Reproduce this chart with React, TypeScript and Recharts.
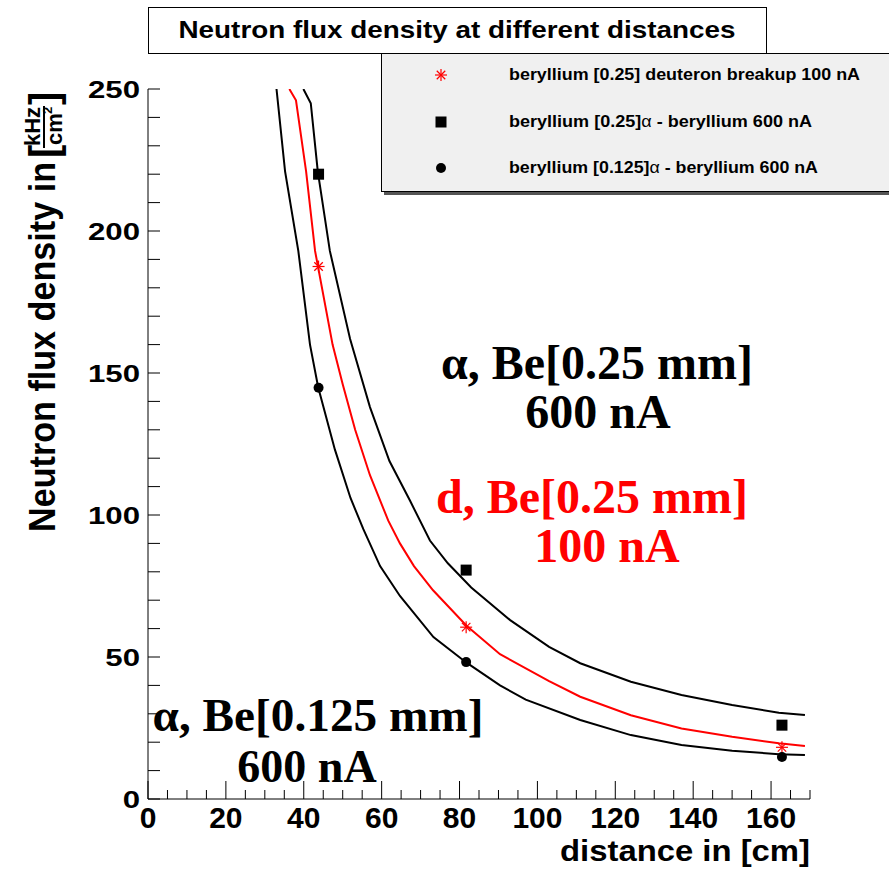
import React from "react";
import { ComposedChart, Line, Scatter, XAxis, YAxis } from "recharts";

// axis ticks
const xTicks = [0, 5, 10, 15, 20, 25, 30, 35, 40, 45, 50, 55, 60, 65, 70, 75, 80, 85, 90, 95, 100, 105, 110, 115, 120, 125, 130, 135, 140, 145, 150, 155, 160, 165, 170];
const xLabels = [0, 20, 40, 60, 80, 100, 120, 140, 160];
const yTicks = [0, 10, 20, 30, 40, 50, 60, 70, 80, 90, 100, 110, 120, 130, 140, 150, 160, 170, 180, 190, 200, 210, 220, 230, 240, 250];
const yLabels = [0, 50, 100, 150, 200, 250];

// measured points (distance in cm, flux in kHz/cm2)
const measDist = [43.8, 81.7, 162.8];
const deuteronFlux = [187.5, 60.5, 18.2];
const alpha025Flux = [220, 80.6, 26.0];
const alpha0125Flux = [144.8, 48.2, 14.8];

// fitted curves
const alpha025X = [39.9, 41.8, 43.6, 46.7, 51.9, 57, 62, 67.3, 72.4, 77, 83, 93, 103, 111, 124, 137, 150, 162, 168.7];
const alpha025Y = [250, 245, 221, 193, 162, 138, 119, 105, 91, 83, 74.5, 63, 53.6, 47.8, 41.3, 36.6, 33.1, 30.4, 29.6];

const deuteronX = [36.3, 38.0, 40.6, 42.9, 47.4, 50, 53.2, 57, 61.7, 64.7, 68.3, 73.2, 81.8, 90.4, 103, 111, 124, 137, 150, 162, 168.7];
const deuteronY = [250, 246, 221, 193, 160, 146, 130, 114, 98, 90, 82, 73.5, 61, 51, 41.5, 36, 29.5, 24.8, 21.9, 19.6, 18.7];

const alpha0125X = [33.0, 35.2, 38.6, 41.6, 43.7, 48, 52, 55.3, 59.6, 64.7, 73.3, 81.8, 90.4, 97, 111, 124, 137, 150, 162, 168.7];
const alpha0125Y = [250, 221, 193, 160, 145, 123, 106, 95, 82, 71.5, 57, 48, 40, 35, 27.8, 22.5, 19, 17, 15.8, 15.5];

const legendLabels = [
  "beryllium [0.25] deuteron breakup 100 nA",
  "beryllium [0.25]",
  "beryllium [0.125]",
];

const zip = (xs: number[], ys: number[]) => xs.map((x, i) => ({ x, y: ys[i] }));

const sans = "'Liberation Sans', Arial, Helvetica, sans-serif";
const serif = "'Liberation Serif', 'Times New Roman', serif";

const Star = ({ cx, cy }: any) => {
  const r = 6;
  const d = r * 0.707;
  return (
    <g stroke="#ff0000" strokeWidth={1.2}>
      <line x1={cx - r} y1={cy} x2={cx + r} y2={cy} />
      <line x1={cx} y1={cy - r} x2={cx} y2={cy + r} />
      <line x1={cx - d} y1={cy - d} x2={cx + d} y2={cy + d} />
      <line x1={cx - d} y1={cy + d} x2={cx + d} y2={cy - d} />
    </g>
  );
};
const Square = ({ cx, cy }: any) => <rect x={cx - 5.5} y={cy - 5.5} width={11} height={11} fill="#000" />;
const Dot = ({ cx, cy }: any) => <circle cx={cx} cy={cy} r={5} fill="#000" />;

const XTick = ({ x, y, payload }: any) => {
  const v = payload.value;
  const major = v % 20 === 0;
  return (
    <g>
      <line x1={x} y1={y} x2={x} y2={y - (major ? 18 : 9)} stroke="#000" strokeWidth={1} />
      {xLabels.includes(v) && (
        <text x={x} y={y + 29} textAnchor="middle" fontFamily={sans} fontWeight="bold" fontSize={30} fill="#000">
          {v}
        </text>
      )}
    </g>
  );
};

const YTick = ({ x, y, payload }: any) => {
  const v = payload.value;
  return (
    <g>
      <line x1={x} y1={y} x2={x + 12} y2={y} stroke="#000" strokeWidth={1} />
      {yLabels.includes(v) && (
        <text
          transform={`translate(${x - 8},${y + 8.5}) scale(1.3,1)`}
          textAnchor="end"
          fontFamily={sans}
          fontWeight="bold"
          fontSize={24}
          fill="#000"
        >
          {v}
        </text>
      )}
    </g>
  );
};

export default function App() {
  return (
    <div style={{ position: "absolute", left: 0, top: 0, width: 889, height: 869, background: "#fff" }}>
      <ComposedChart width={889} height={869} margin={{ top: 89, right: 79, bottom: 40, left: 88 }}>
        <XAxis
          type="number"
          dataKey="x"
          domain={[0, 170]}
          ticks={xTicks}
          interval={0}
          height={30}
          tickSize={0}
          tickMargin={0}
          tick={(p: any) => <XTick {...p} />}
          stroke="#000"
          allowDataOverflow
        />
        <XAxis xAxisId="top" orientation="top" type="number" domain={[0, 170]} height={0} tick={false} tickLine={false} stroke="#000" />
        <YAxis
          type="number"
          dataKey="y"
          domain={[0, 250]}
          ticks={yTicks}
          interval={0}
          width={60}
          tickSize={0}
          tickMargin={0}
          tick={(p: any) => <YTick {...p} />}
          stroke="#000"
          allowDataOverflow
        />
        <YAxis yAxisId="right" orientation="right" type="number" domain={[0, 250]} width={0} tick={false} tickLine={false} stroke="#000" />

        <Line data={zip(alpha0125X, alpha0125Y)} dataKey="y" type="linear" stroke="#000" strokeWidth={2} dot={false} isAnimationActive={false} />
        <Line data={zip(deuteronX, deuteronY)} dataKey="y" type="linear" stroke="#ff0000" strokeWidth={2} dot={false} isAnimationActive={false} />
        <Line data={zip(alpha025X, alpha025Y)} dataKey="y" type="linear" stroke="#000" strokeWidth={2} dot={false} isAnimationActive={false} />

        <Scatter data={zip(measDist, deuteronFlux)} dataKey="y" shape={(p: any) => <Star {...p} />} isAnimationActive={false} />
        <Scatter data={zip(measDist, alpha025Flux)} dataKey="y" shape={(p: any) => <Square {...p} />} isAnimationActive={false} />
        <Scatter data={zip(measDist, alpha0125Flux)} dataKey="y" shape={(p: any) => <Dot {...p} />} isAnimationActive={false} />
      </ComposedChart>

      <svg width={889} height={869} style={{ position: "absolute", left: 0, top: 0, pointerEvents: "none" }}>
        {/* title */}
        <rect x={148.5} y={7.5} width={618} height={46} fill="#fff" stroke="#000" strokeWidth={1} />
        <text x={457} y={38} textAnchor="middle" fontFamily={sans} fontWeight="bold" fontSize={24} textLength={557} lengthAdjust="spacingAndGlyphs" fill="#000">
          Neutron flux density at different distances
        </text>

        {/* legend */}
        <rect x={384} y={56} width={510} height={139} fill="#555" />
        <rect x={381.5} y={53.5} width={510} height={138} fill="#f0f0f0" stroke="#000" strokeWidth={1} />
        <Star cx={441} cy={75} />
        <Square cx={441} cy={122} />
        <Dot cx={441} cy={168} />
        <text x={509} y={80} fontFamily={sans} fontWeight="bold" fontSize={17} textLength={351} lengthAdjust="spacingAndGlyphs" fill="#000">
          {legendLabels[0]}
        </text>
        <text x={509} y={127} fontFamily={sans} fontWeight="bold" fontSize={17} textLength={303} lengthAdjust="spacingAndGlyphs" fill="#000">
          {legendLabels[1]}
          <tspan fontWeight="normal">α</tspan> - beryllium 600 nA
        </text>
        <text x={509} y={173} fontFamily={sans} fontWeight="bold" fontSize={17} textLength={309} lengthAdjust="spacingAndGlyphs" fill="#000">
          {legendLabels[2]}
          <tspan fontWeight="normal">α</tspan> - beryllium 600 nA
        </text>

        {/* axis titles */}
        <text x={810} y={861} textAnchor="end" fontFamily={sans} fontWeight="bold" fontSize={30} textLength={250} lengthAdjust="spacingAndGlyphs" fill="#000">
          distance in [cm]
        </text>
        <g transform="translate(55,532) rotate(-90)" fontFamily={sans} fontWeight="bold" fill="#000">
          <text x={0} y={0} fontSize={36} textLength={370} lengthAdjust="spacingAndGlyphs">Neutron flux density in</text>
          <text x={374} y={3} fontSize={40}>[</text>
          <text x={386} y={-15} fontSize={22}>kHz</text>
          <line x1={384} y1={-11} x2={426} y2={-11} stroke="#000" strokeWidth={2} />
          <text x={387} y={7} fontSize={22}>cm</text>
          <text x={418} y={-3} fontSize={13}>2</text>
          <text x={427} y={3} fontSize={40}>]</text>
        </g>

        {/* annotations */}
        <g fontFamily={serif} fontWeight="bold" textAnchor="middle">
          <text x={597} y={379} fontSize={48} fill="#000">α, Be[0.25 mm]</text>
          <text x={598} y={428} fontSize={48} fill="#000">600 nA</text>
          <text x={592} y={513} fontSize={48} fill="#ff0000">d, Be[0.25 mm]</text>
          <text x={607} y={562} fontSize={48} fill="#ff0000">100 nA</text>
          <text x={318} y={731} fontSize={46} textLength={331} lengthAdjust="spacingAndGlyphs" fill="#000">α, Be[0.125 mm]</text>
          <text x={307} y={782} fontSize={46} fill="#000">600 nA</text>
        </g>
      </svg>
    </div>
  );
}
